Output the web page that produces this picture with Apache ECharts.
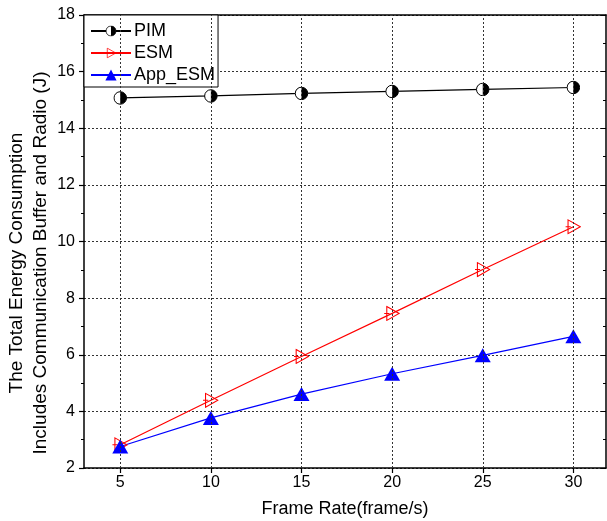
<!DOCTYPE html>
<html>
<head>
<meta charset="utf-8">
<script src="https://cdn.jsdelivr.net/npm/echarts@6/dist/echarts.min.js"></script>
<style>html,body{margin:0;padding:0;background:#fff;}#c{width:607px;height:521px;}</style>
</head>
<body>
<div id="c"></div>
<script>
var frameRates = [5, 10, 15, 20, 25, 30];
var pimValues = [15.07, 15.14, 15.23, 15.30, 15.37, 15.44];
var esmValues = [2.82, 4.39, 5.94, 7.46, 9.01, 10.52];
var appEsmValues = [2.76, 3.77, 4.61, 5.33, 5.98, 6.65];
var seriesNames = ['PIM', 'ESM', 'App_ESM'];
var xTicks = [5, 10, 15, 20, 25, 30];
var xTitle = 'Frame Rate(frame/s)';
var yTitle = 'The Total Energy Consumption\nIncludes Communication Buffer and Radio (J)';

function svgUri(s) { return 'image://data:image/svg+xml;charset=utf-8,' + encodeURIComponent(s); }
var pimIcon = svgUri("<svg xmlns='http://www.w3.org/2000/svg' width='28' height='28' viewBox='0 0 28 28'><circle cx='14' cy='14' r='12.5' fill='white' stroke='black' stroke-width='2'/><path d='M14 1.5 A12.5 12.5 0 0 1 14 26.5 Z' fill='black'/></svg>");
var esmIcon = svgUri("<svg xmlns='http://www.w3.org/2000/svg' width='30' height='30' viewBox='0 0 30 30'><polygon points='5,2 28,15 5,28' fill='none' stroke='red' stroke-width='2'/><line x1='0' y1='15' x2='10' y2='15' stroke='red' stroke-width='2'/></svg>");

function pairs(v) { return frameRates.map(function (x, i) { return [x, v[i]]; }); }

var font = 'Arial, "Liberation Sans", sans-serif';
var chart = echarts.init(document.getElementById('c'), null, { renderer: 'canvas' });
chart.setOption({
  animation: false,
  backgroundColor: '#fff',
  textStyle: { fontFamily: font, color: '#000' },
  grid: { left: 84, right: 1, top: 15, bottom: 53, containLabel: false, outerBoundsMode: 'none' },
  legend: {
    orient: 'vertical', left: 84, top: 15,
    data: seriesNames,
    backgroundColor: '#fff', borderColor: '#000', borderWidth: 1, borderRadius: 0,
    padding: [7, 3, 3, 6], itemGap: 4, itemWidth: 40, itemHeight: 14,
    textStyle: { fontFamily: font, fontSize: 18, color: '#000', padding: [0, 0, 0, -2] }
  },
  graphic: [{
    type: 'text', x: 29, y: 263, rotation: Math.PI / 2, silent: true,
    style: { text: yTitle, fill: '#000', font: '19px ' + font, textAlign: 'center', textVerticalAlign: 'middle', lineHeight: 24 }
  }],
  xAxis: [{
    type: 'value', min: 3, max: 31.8, position: 'bottom',
    name: xTitle, nameLocation: 'middle', nameGap: 32,
    nameTextStyle: { fontFamily: font, fontSize: 18, color: '#000' },
    axisLine: { lineStyle: { color: '#000', width: 1.5 } },
    axisTick: { show: true, customValues: xTicks, length: 5, lineStyle: { color: '#000', width: 1.2 } },
    axisLabel: { customValues: xTicks, fontFamily: font, fontSize: 16, color: '#000', margin: 7 },
    splitLine: { show: false }
  }, {
    type: 'value', min: 3, max: 31.8, position: 'top',
    axisLine: { show: true, lineStyle: { color: '#000', width: 1.5 } },
    axisTick: { show: false }, axisLabel: { show: false }, splitLine: { show: false }
  }],
  yAxis: [{
    type: 'value', min: 2, max: 18, interval: 2, position: 'left',
    axisLine: { show: true, lineStyle: { color: '#000', width: 1.5 } },
    axisTick: { show: true, length: 5, lineStyle: { color: '#000', width: 1.2 } },
    minorTick: { show: true, splitNumber: 2, length: 3, lineStyle: { color: '#000' } },
    axisLabel: { fontFamily: font, fontSize: 16, color: '#000', margin: 9 },
    splitLine: { show: true, lineStyle: { color: '#333', type: [2, 2], width: 1 } }
  }, {
    type: 'value', min: 2, max: 18, interval: 2, position: 'right',
    axisLine: { show: true, lineStyle: { color: '#000', width: 1.5 } },
    axisTick: { show: true, inside: true, length: 5, lineStyle: { color: '#000' } },
    minorTick: { show: true, splitNumber: 2, length: 3, lineStyle: { color: '#000' } },
    axisLabel: { show: false }, splitLine: { show: false }
  }],
  series: [{
    name: 'grid', type: 'line', data: [], silent: true,
    markLine: {
      silent: true, symbol: 'none', label: { show: false },
      lineStyle: { color: '#333', type: [2, 2], width: 1 },
      data: xTicks.map(function (v) { return { xAxis: v }; })
    }
  }, {
    name: 'PIM', type: 'line', data: pairs(pimValues),
    symbol: pimIcon, symbolSize: 14, showAllSymbol: true,
    lineStyle: { color: '#000', width: 1.2 }, itemStyle: { color: '#000' }
  }, {
    name: 'ESM', type: 'line', data: pairs(esmValues),
    symbol: esmIcon, symbolSize: 16,
    lineStyle: { color: '#ff0000', width: 1.2 }, itemStyle: { color: '#ff0000' }
  }, {
    name: 'App_ESM', type: 'line', data: pairs(appEsmValues),
    symbol: 'triangle', symbolSize: [16, 14],
    lineStyle: { color: '#0000ff', width: 1.2 }, itemStyle: { color: '#0000ff' }
  }]
});
</script>
</body>
</html>
